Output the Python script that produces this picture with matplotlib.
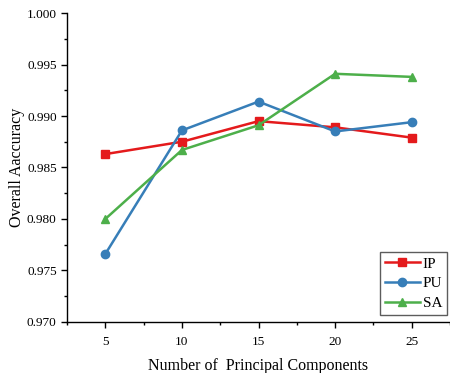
import numpy as np
import matplotlib.pyplot as plt
from matplotlib.ticker import MultipleLocator

# data
components = [5, 10, 15, 20, 25]
ip_acc = [0.9863, 0.9875, 0.9895, 0.9889, 0.9879]
pu_acc = [0.9766, 0.9886, 0.9914, 0.9885, 0.9894]
sa_acc = [0.9800, 0.9867, 0.9891, 0.9941, 0.9938]

plt.rcParams["font.family"] = ["Liberation Serif", "DejaVu Serif"]

fig = plt.figure(figsize=(4.5, 3.73), dpi=100)
ax = fig.add_axes([0.149, 0.137, 0.851, 0.828])

ax.plot(components, ip_acc, color="#e41a1c", marker="s", markersize=5.5,
        linewidth=1.8, label="IP")
ax.plot(components, pu_acc, color="#377eb8", marker="o", markersize=6,
        linewidth=1.8, label="PU")
ax.plot(components, sa_acc, color="#4daf4a", marker="^", markersize=6,
        linewidth=1.8, label="SA")

ax.set_xlim(2.5, 27.5)
ax.set_ylim(0.970, 1.000)
ax.xaxis.set_major_locator(MultipleLocator(5))
ax.xaxis.set_minor_locator(MultipleLocator(2.5))
ax.yaxis.set_major_locator(MultipleLocator(0.005))
ax.yaxis.set_minor_locator(MultipleLocator(0.0025))
ax.yaxis.set_major_formatter(plt.FormatStrFormatter("%.3f"))

for s in ["top", "right"]:
    ax.spines[s].set_visible(False)
ax.spines["left"].set_linewidth(1.0)
ax.spines["bottom"].set_linewidth(1.0)

ax.tick_params(which="major", direction="out", length=4, width=1, labelsize=9.5)
ax.tick_params(which="minor", direction="out", length=2.5, width=1)
ax.tick_params(axis="x", pad=6)

ax.set_xlabel("Number of  Principal Components", fontsize=11.5, labelpad=7)
ax.set_ylabel("Overall Aaccuracy", fontsize=11.5, labelpad=1)

leg = ax.legend(loc="lower right", fontsize=11, frameon=True, fancybox=False,
                edgecolor="#333333", handlelength=2.3, borderpad=0.3,
                labelspacing=0.4, handletextpad=0.2, borderaxespad=0,
                bbox_to_anchor=(0.992, 0.023))
leg.get_frame().set_linewidth(1.0)

plt.savefig("out.png", dpi=100)
